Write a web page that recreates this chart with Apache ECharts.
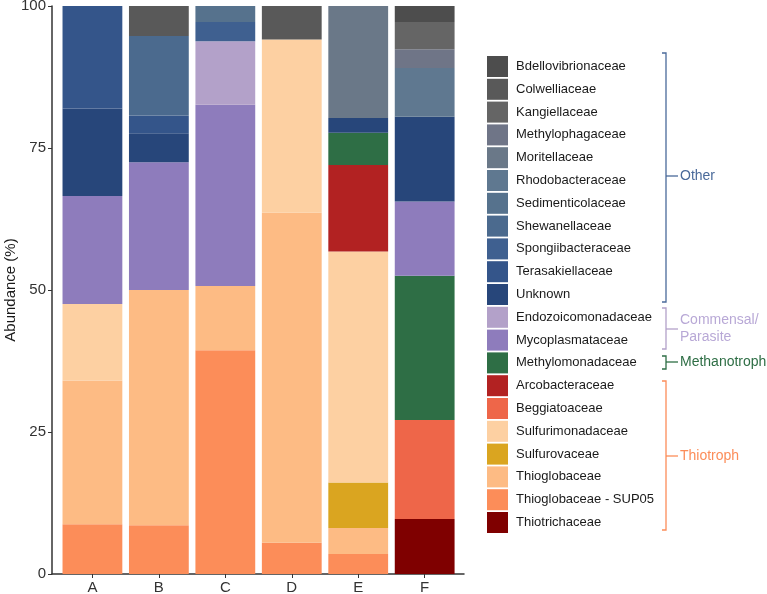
<!DOCTYPE html>
<html>
<head>
<meta charset="utf-8">
<script src="https://cdn.jsdelivr.net/npm/echarts@6/dist/echarts.min.js"></script>
<style>
html,body{margin:0;padding:0;background:#fff;}
#chart{width:767px;height:594px;}
</style>
</head>
<body>
<div id="chart"></div>
<script>
// samples on the x axis
var samples = ['A', 'B', 'C', 'D', 'E', 'F'];
var yTicks = [0, 25, 50, 75, 100];

// families, bottom of the stack first
var families = [
	'Thiotrichaceae', 'Thioglobaceae - SUP05', 'Thioglobaceae', 'Sulfurovaceae', 'Sulfurimonadaceae',
	'Beggiatoaceae', 'Arcobacteraceae', 'Methylomonadaceae', 'Mycoplasmataceae', 'Endozoicomonadaceae',
	'Unknown', 'Terasakiellaceae', 'Spongiibacteraceae', 'Shewanellaceae', 'Sedimenticolaceae',
	'Rhodobacteraceae', 'Moritellaceae', 'Methylophagaceae', 'Kangiellaceae', 'Colwelliaceae',
	'Bdellovibrionaceae'
];

// abundance (%) per sample A..F
var thiotrichaceae      = [0, 0, 0, 0, 0, 9.7];
var sup05               = [8.75, 8.6, 39.4, 5.5, 3.5, 0];
var thioglobaceae       = [25.3, 41.4, 11.3, 58.1, 4.6, 0];
var sulfurovaceae       = [0, 0, 0, 0, 8.0, 0];
var sulfurimonadaceae   = [13.5, 0, 0, 30.5, 40.7, 0];
var beggiatoaceae       = [0, 0, 0, 0, 0, 17.4];
var arcobacteraceae     = [0, 0, 0, 0, 15.2, 0];
var methylomonadaceae   = [0, 0, 0, 0, 5.7, 25.4];
var mycoplasmataceae    = [19.0, 22.5, 31.9, 0, 0, 13.1];
var endozoicomonadaceae = [0, 0, 11.2, 0, 0, 0];
var unknown             = [15.4, 5.1, 0, 0, 2.6, 14.9];
var terasakiellaceae    = [18.05, 3.1, 0, 0, 0, 0];
var spongiibacteraceae  = [0, 0, 3.4, 0, 0, 0];
var shewanellaceae      = [0, 14.0, 0, 0, 0, 0];
var sedimenticolaceae   = [0, 0, 2.8, 0, 0, 0];
var rhodobacteraceae    = [0, 0, 0, 0, 0, 8.6];
var moritellaceae       = [0, 0, 0, 0, 19.7, 0];
var methylophagaceae    = [0, 0, 0, 0, 0, 3.3];
var kangiellaceae       = [0, 0, 0, 0, 0, 4.8];
var colwelliaceae       = [0, 5.3, 0, 5.9, 0, 0];
var bdellovibrionaceae  = [0, 0, 0, 0, 0, 2.8];

var familyValues = [
	thiotrichaceae, sup05, thioglobaceae, sulfurovaceae, sulfurimonadaceae,
	beggiatoaceae, arcobacteraceae, methylomonadaceae, mycoplasmataceae, endozoicomonadaceae,
	unknown, terasakiellaceae, spongiibacteraceae, shewanellaceae, sedimenticolaceae,
	rhodobacteraceae, moritellaceae, methylophagaceae, kangiellaceae, colwelliaceae,
	bdellovibrionaceae
];

var colors = [
	'#7f0000', '#fc8d59', '#fdbb84', '#daa520', '#fdd0a2',
	'#ee6649', '#b22222', '#2e6e45', '#8e7cbc', '#b3a1c9',
	'#27467a', '#34558a', '#3f6090', '#4b6a8e', '#56728d',
	'#5f7890', '#6a7888', '#6f7587', '#656565', '#595959',
	'#4d4d4d'
];

var FONT = 'Liberation Sans';

var series = [];
for (var i = 0; i < families.length; i++) {
	series.push({
		name: families[i],
		type: 'bar',
		stack: 'total',
		xAxisIndex: 1,
		yAxisIndex: 1,
		barCategoryGap: '10%',
		itemStyle: {color: colors[i]},
		data: familyValues[i]
	});
}

// brackets grouping the legend
function bracket(top, bottom, color) {
	return {
		type: 'polyline',
		silent: true,
		shape: {points: [[662, top], [666, top], [666, bottom], [662, bottom]]},
		style: {stroke: color, lineWidth: 1.3, fill: null}
	};
}
function midTick(y, color) {
	return {
		type: 'line',
		silent: true,
		shape: {x1: 666, y1: y, x2: 678, y2: y},
		style: {stroke: color, lineWidth: 1.3}
	};
}
function groupText(y, text, color) {
	return {
		type: 'text',
		silent: true,
		x: 680,
		y: y,
		style: {text: text, fill: color, font: '14px ' + FONT, verticalAlign: 'middle', lineHeight: 17}
	};
}

var myChart = echarts.init(document.getElementById('chart'));
var option = {
	animation: false,
	// grid 0 carries the axis lines, grid 1 the bars (ggplot-like padding on the discrete axis)
	grid: [
		{left: 52, right: 303, top: 6, bottom: 20, outerBoundsMode: 'none'},
		{left: 59.2, right: 309.1, top: 6, bottom: 20, outerBoundsMode: 'none'}
	],
	legend: {
		data: families.slice().reverse(),
		orient: 'vertical',
		left: 487,
		top: 56,
		padding: 0,
		icon: 'rect',
		itemWidth: 21,
		itemHeight: 21,
		itemGap: 1.8,
		selectedMode: false,
		textStyle: {fontFamily: FONT, fontSize: 13, color: '#1a1a1a', padding: [0, 0, 0, 3]}
	},
	xAxis: [
		{
			gridIndex: 0,
			type: 'value',
			min: 0,
			max: 1,
			splitLine: {show: false},
			axisLine: {show: true, onZero: false, lineStyle: {color: '#333', width: 1.5}},
			axisTick: {show: false},
			axisLabel: {show: false}
		},
		{
			gridIndex: 1,
			type: 'category',
			data: samples,
			axisLine: {show: false},
			axisTick: {show: true, alignWithLabel: true, length: 4, lineStyle: {color: '#333'}},
			axisLabel: {margin: 6, fontFamily: FONT, fontSize: 15, color: '#333'}
		}
	],
	yAxis: [
		{
			gridIndex: 0,
			type: 'value',
			min: 0,
			max: 100,
			interval: 25,
			name: 'Abundance (%)',
			nameLocation: 'middle',
			nameGap: 34,
			nameMoveOverlap: false,
			nameTextStyle: {fontFamily: FONT, fontSize: 15, color: '#1a1a1a'},
			splitLine: {show: false},
			axisLine: {show: true, onZero: false, lineStyle: {color: '#333', width: 1.5}},
			axisTick: {show: true, length: 4, lineStyle: {color: '#333'}},
			axisLabel: {
				margin: 6,
				fontFamily: FONT,
				fontSize: 15,
				color: '#333',
				formatter: function (v) { return yTicks.indexOf(v) >= 0 ? String(v) : ''; }
			}
		},
		{
			gridIndex: 1,
			type: 'value',
			min: 0,
			max: 100,
			show: false
		}
	],
	graphic: [
		bracket(53, 302, '#4a6a9a'),
		midTick(176, '#4a6a9a'),
		groupText(176, 'Other', '#4a6a9a'),
		bracket(308, 349, '#b3a1c9'),
		midTick(329, '#b3a1c9'),
		groupText(329, 'Commensal/\nParasite', '#b8a8d6'),
		bracket(356, 369, '#2e6e45'),
		midTick(362, '#2e6e45'),
		groupText(362, 'Methanotroph', '#2e6e45'),
		bracket(381, 530, '#fc8d59'),
		midTick(456, '#fc8d59'),
		groupText(456, 'Thiotroph', '#fc8d59')
	],
	series: series
};
myChart.setOption(option);
</script>
</body>
</html>
